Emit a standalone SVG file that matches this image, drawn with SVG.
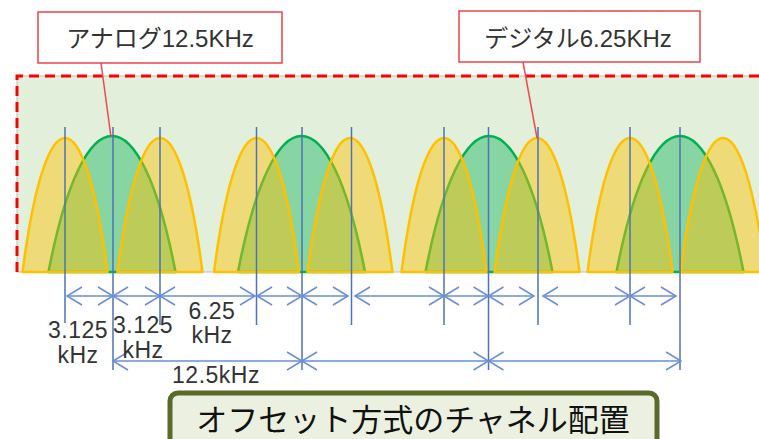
<svg xmlns="http://www.w3.org/2000/svg" width="759" height="439" viewBox="0 0 759 439">
<style>
.yl{fill:#ffc000;fill-opacity:0.45;stroke:#ffc000;stroke-width:2.5;stroke-linejoin:round}
.gr{fill:#00b050;fill-opacity:0.4;stroke:#00b050;stroke-width:2.5;stroke-linejoin:round}
.vl{stroke:#4d72b8;stroke-width:1.5}
.dim{stroke:#6a8ed6;stroke-width:1.5;fill:none;marker-start:url(#ah);marker-end:url(#ah)}
.co{fill:#fff;stroke:#e8434a;stroke-width:1.5}
.cl{stroke:#f0484e;stroke-width:1.5}
.lbl{font-family:"Liberation Sans","Noto Sans CJK JP",sans-serif;font-size:23px;fill:#333;text-anchor:middle;letter-spacing:0.5px}
.ct{font-family:"Liberation Sans","Noto Sans CJK JP",sans-serif;font-size:24px;fill:#333;text-anchor:middle}
.tt{font-family:"Noto Sans CJK JP",sans-serif;font-size:31px;fill:#111;text-anchor:middle}
</style>
<defs>
<marker id="ah" viewBox="-17 -11 19 22" refX="0" refY="0" markerWidth="19" markerHeight="22" markerUnits="userSpaceOnUse" orient="auto-start-reverse">
<path d="M-15,-9 L0,0 L-15,9" fill="none" stroke="#6a8ed6" stroke-width="1.5"/>
</marker>
</defs>
<g id="band">
<rect x="17" y="76" width="760" height="196" fill="#e2efda" stroke="#c0c0c0" stroke-width="1"/>
<path d="M17,272 V76 H770" fill="none" stroke="#ff0000" stroke-width="3" stroke-dasharray="10 6"/>
</g>
<g id="green-channels">
<path class="gr" d="M48.5,272 C83.4,90.7 140.6,90.7 175.5,272 Z"/>
<path class="gr" d="M238,272 C272.9,90.7 330.1,90.7 365,272 Z"/>
<path class="gr" d="M425.5,272 C460.4,90.7 517.6,90.7 552.5,272 Z"/>
<path class="gr" d="M616.5,272 C651.4,90.7 708.6,90.7 743.5,272 Z"/>
</g>
<g id="yellow-channels">
<path class="yl" d="M22.5,272 C45.9,93.3 84.1,93.3 107.5,272 Z"/>
<path class="yl" d="M117.5,272 C140.9,93.3 179.1,93.3 202.5,272 Z"/>
<path class="yl" d="M214,272 C237.4,93.3 275.6,93.3 299,272 Z"/>
<path class="yl" d="M307.5,272 C330.9,93.3 369.1,93.3 392.5,272 Z"/>
<path class="yl" d="M401.5,272 C424.9,93.3 463.1,93.3 486.5,272 Z"/>
<path class="yl" d="M494.5,272 C517.9,93.3 556.1,93.3 579.5,272 Z"/>
<path class="yl" d="M587.5,272 C610.9,93.3 649.1,93.3 672.5,272 Z"/>
<path class="yl" d="M680.5,272 C703.9,93.3 742.1,93.3 765.5,272 Z"/>
</g>
<g id="connectors">
<line class="vl" x1="65" y1="127" x2="65" y2="323"/>
<line class="vl" x1="113" y1="127" x2="113" y2="370"/>
<line class="vl" x1="160" y1="127" x2="160" y2="325"/>
<line class="vl" x1="256.5" y1="127" x2="256.5" y2="325"/>
<line class="vl" x1="302" y1="127" x2="302" y2="370"/>
<line class="vl" x1="351.5" y1="127" x2="351.5" y2="325"/>
<line class="vl" x1="444" y1="127" x2="444" y2="325"/>
<line class="vl" x1="488.5" y1="127" x2="488.5" y2="370"/>
<line class="vl" x1="538" y1="127" x2="538" y2="325"/>
<line class="vl" x1="630" y1="127" x2="630" y2="325"/>
<line class="vl" x1="680" y1="127" x2="680" y2="370"/>
<line class="cl" x1="101" y1="63" x2="111" y2="137"/>
<line class="cl" x1="523" y1="62" x2="537" y2="138"/>
<path class="dim" d="M67,296 H113"/>
<path class="dim" d="M113,296 H160"/>
<path class="dim" d="M160,296 H255"/>
<path class="dim" d="M257,296 H302"/>
<path class="dim" d="M302,296 H348"/>
<path class="dim" d="M355,296 H444"/>
<path class="dim" d="M444,296 H488.5"/>
<path class="dim" d="M488.5,296 H534"/>
<path class="dim" d="M543,296 H630"/>
<path class="dim" d="M630,296 H676"/>
<path class="dim" d="M113,361 H302"/>
<path class="dim" d="M302,361 H488.5"/>
<path class="dim" d="M488.5,361 H681"/>
</g>
<g id="callout-analog">
<rect class="co" x="38" y="12" width="244" height="51"/>
<text class="ct" x="160" y="47">アナログ12.5KHz</text>
</g>
<g id="callout-digital">
<rect class="co" x="459" y="11" width="241" height="51"/>
<text class="ct" x="578" y="47">デジタル6.25KHz</text>
</g>
<g id="labels">
<text class="lbl" x="78" y="338">3.125</text>
<text class="lbl" x="78" y="363">kHz</text>
<text class="lbl" x="143" y="333">3.125</text>
<text class="lbl" x="143" y="358">kHz</text>
<text class="lbl" x="212" y="319">6.25</text>
<text class="lbl" x="212" y="343">kHz</text>
<text class="lbl" x="216" y="383">12.5kHz</text>
</g>
<g id="title">
<rect x="170" y="393" width="487" height="62" rx="8" fill="#ebf0e0" stroke="#5a6a2a" stroke-width="5"/>
<text class="tt" x="413" y="431">オフセット方式のチャネル配置</text>
</g>
</svg>
